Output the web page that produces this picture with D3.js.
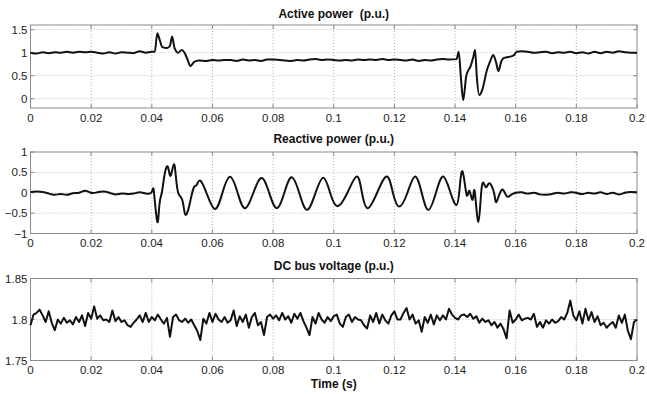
<!DOCTYPE html>
<html><head><meta charset="utf-8">
<script src="https://cdn.jsdelivr.net/npm/d3@7"></script>
<style>
body{margin:0;background:#fff;}
text{font-family:"Liberation Sans",Arial,Helvetica,sans-serif;}
</style></head>
<body><svg id="c" width="647" height="394"></svg>
<script>
const xTicks = [0,0.02,0.04,0.06,0.08,0.1,0.12,0.14,0.16,0.18,0.2];
const activeTicks = [0,0.5,1,1.5];
const reactiveTicks = [-1,-0.5,0,0.5,1];
const dcTicks = [1.75,1.8,1.85];

const activeT = [0,0.002,0.004,0.006,0.008,0.010,0.012,0.014,0.016,0.018,0.020,0.022,0.024,0.026,0.028,0.030,0.032,0.034,0.036,0.038,0.040,0.0410,0.0418,0.0425,0.0435,0.0450,0.0460,0.0467,0.0475,0.0488,0.0498,0.0508,0.0518,0.0527,0.0540,0.0555,0.058,0.060,0.062,0.064,0.066,0.068,0.070,0.072,0.074,0.076,0.078,0.080,0.082,0.084,0.086,0.088,0.090,0.092,0.094,0.096,0.098,0.100,0.102,0.104,0.106,0.108,0.110,0.112,0.114,0.116,0.118,0.120,0.122,0.124,0.126,0.128,0.130,0.132,0.134,0.136,0.138,0.1405,0.1412,0.1420,0.1427,0.1437,0.1452,0.1460,0.1466,0.1472,0.1480,0.1490,0.1505,0.1515,0.1526,0.1535,0.1543,0.1552,0.1560,0.1570,0.1585,0.1595,0.1603,0.162,0.164,0.166,0.168,0.170,0.172,0.174,0.176,0.178,0.180,0.182,0.184,0.186,0.188,0.190,0.192,0.194,0.196,0.198,0.200];
const activeV = [1.00,0.98,1.01,0.99,1.01,1.00,1.02,1.00,1.02,1.01,1.02,1.00,0.98,1.01,0.98,1.01,1.00,0.99,1.03,1.00,1.02,1.02,1.42,1.30,1.12,1.10,1.15,1.35,1.10,1.00,1.06,1.00,0.85,0.71,0.80,0.83,0.82,0.84,0.83,0.84,0.84,0.82,0.85,0.83,0.84,0.82,0.85,0.85,0.84,0.83,0.82,0.84,0.83,0.85,0.86,0.84,0.85,0.84,0.83,0.84,0.83,0.85,0.84,0.85,0.84,0.86,0.84,0.85,0.84,0.83,0.85,0.82,0.84,0.83,0.85,0.86,0.85,0.86,1.02,0.40,-0.03,0.50,0.72,0.90,1.06,0.45,0.08,0.20,0.62,0.80,0.95,0.80,0.60,0.80,0.88,0.90,0.92,0.95,1.02,1.03,1.02,1.00,1.01,1.02,0.99,1.01,1.00,1.02,0.99,1.01,0.98,1.02,0.99,1.02,1.00,1.03,1.01,1.00,1.00];

const reactiveT = [0,0.002,0.004,0.006,0.008,0.010,0.012,0.014,0.016,0.018,0.020,0.022,0.024,0.026,0.028,0.030,0.032,0.034,0.036,0.038,0.040,0.0407,0.0418,0.0425,0.0433,0.0440,0.0449,0.0456,0.0463,0.0473,0.0480,0.0487,0.0495,0.0503,0.0510,0.0520,0.0530,0.0540,0.0548,0.0559,0.0580,0.0608,0.0633,0.0658,0.0683,0.0707,0.0735,0.0762,0.0787,0.0812,0.0837,0.0861,0.0886,0.0912,0.0940,0.0966,0.0988,0.1012,0.1045,0.1076,0.1093,0.1112,0.1143,0.1175,0.1195,0.1216,0.1243,0.1268,0.1290,0.1312,0.1337,0.1361,0.1385,0.1405,0.1415,0.1425,0.1438,0.1447,0.1458,0.1465,0.1477,0.1488,0.1500,0.1510,0.1520,0.1530,0.1537,0.1554,0.1570,0.1585,0.160,0.162,0.164,0.166,0.168,0.170,0.172,0.174,0.176,0.178,0.180,0.182,0.184,0.186,0.188,0.190,0.192,0.194,0.196,0.198,0.200];
const reactiveV = [0.02,0.03,0.02,-0.02,-0.05,-0.03,-0.05,-0.01,0.00,0.05,0.00,0.01,0.03,0.00,-0.04,-0.02,-0.03,-0.02,0.01,-0.02,0.02,0.02,-0.71,-0.30,0.00,0.35,0.64,0.55,0.43,0.70,0.35,0.00,-0.10,-0.25,-0.53,-0.42,-0.10,0.15,0.19,0.30,0.00,-0.40,0.00,0.39,0.00,-0.38,0.00,0.36,0.00,-0.38,0.00,0.38,0.00,-0.42,0.00,0.37,0.00,-0.33,0.00,0.40,0.00,-0.38,0.00,0.40,0.00,-0.34,0.00,0.40,0.00,-0.42,0.00,0.40,0.00,-0.30,0.10,0.52,-0.05,0.05,-0.17,0.03,-0.71,0.14,0.15,0.22,0.18,-0.05,-0.22,0.07,-0.08,-0.05,0.00,0.01,-0.02,0.00,-0.04,-0.05,-0.03,0.00,-0.02,0.01,0.00,-0.03,0.00,-0.02,0.01,-0.03,0.00,-0.04,0.00,0.02,0.01];

const dcStep = 0.001;
const dcV = [1.793,1.806,1.808,1.812,1.805,1.797,1.810,1.796,1.787,1.800,1.795,1.802,1.796,1.799,1.794,1.803,1.797,1.805,1.792,1.808,1.801,1.816,1.801,1.805,1.799,1.800,1.797,1.811,1.798,1.803,1.797,1.799,1.793,1.791,1.796,1.800,1.805,1.797,1.808,1.797,1.803,1.799,1.806,1.800,1.795,1.802,1.779,1.803,1.806,1.799,1.797,1.801,1.796,1.800,1.793,1.786,1.775,1.801,1.795,1.808,1.797,1.807,1.800,1.797,1.803,1.796,1.799,1.811,1.792,1.804,1.797,1.806,1.790,1.803,1.808,1.793,1.797,1.781,1.803,1.806,1.801,1.805,1.799,1.808,1.800,1.804,1.796,1.807,1.801,1.808,1.798,1.790,1.781,1.803,1.795,1.808,1.800,1.796,1.803,1.798,1.804,1.806,1.795,1.791,1.803,1.806,1.797,1.803,1.800,1.799,1.793,1.789,1.805,1.797,1.808,1.795,1.806,1.799,1.795,1.805,1.810,1.800,1.800,1.808,1.814,1.800,1.806,1.795,1.799,1.785,1.803,1.796,1.806,1.794,1.805,1.799,1.805,1.800,1.813,1.806,1.802,1.800,1.805,1.806,1.803,1.807,1.801,1.804,1.796,1.801,1.797,1.799,1.793,1.797,1.790,1.795,1.788,1.777,1.811,1.796,1.800,1.806,1.799,1.801,1.802,1.800,1.807,1.791,1.797,1.790,1.799,1.795,1.800,1.796,1.798,1.803,1.800,1.808,1.823,1.805,1.799,1.810,1.795,1.813,1.799,1.809,1.797,1.804,1.793,1.796,1.790,1.794,1.797,1.790,1.805,1.796,1.806,1.786,1.776,1.797,1.800];

const svg = d3.select("#c");
const X0 = 30.5, X1 = 637;
const x = d3.scaleLinear().domain([0,0.2]).range([X0,X1]);

const panels = [
  {title:"Active power  (p.u.)", top:25, bottom:108, domain:[-0.2,1.6], ticks:activeTicks, t:activeT, v:activeV, curve:d3.curveMonotoneX, titleY:18},
  {title:"Reactive power (p.u.)", top:152, bottom:233.5, domain:[-1,1], ticks:reactiveTicks, t:reactiveT, v:reactiveV, curve:d3.curveNatural, titleY:142.5},
  {title:"DC bus voltage (p.u.)", top:278.5, bottom:360.5, domain:[1.75,1.85], ticks:dcTicks, t:dcV.map((d,i)=>i*dcStep), v:dcV, curve:d3.curveLinear, titleY:269.5}
];

panels.forEach(p => {
  const y = d3.scaleLinear().domain(p.domain).range([p.bottom,p.top]);
  const g = svg.append("g");
  g.selectAll(".vg").data(xTicks.slice(1,-1)).join("line")
    .attr("x1",d=>x(d)).attr("x2",d=>x(d)).attr("y1",p.top).attr("y2",p.bottom)
    .attr("stroke","#9a9a9a").attr("stroke-width",0.8).attr("stroke-dasharray","1,2");
  g.selectAll(".hg").data(p.ticks.filter(d=>d>p.domain[0]&&d<p.domain[1])).join("line")
    .attr("x1",X0).attr("x2",X1).attr("y1",d=>y(d)).attr("y2",d=>y(d))
    .attr("stroke","#a8a8a8").attr("stroke-width",0.8).attr("stroke-dasharray","1,2");
  g.append("rect").attr("x",X0).attr("y",p.top).attr("width",X1-X0).attr("height",p.bottom-p.top)
    .attr("fill","none").attr("stroke","#8a8a8a").attr("stroke-width",1);
  g.selectAll(".xt").data(xTicks).join("line")
    .attr("x1",d=>x(d)).attr("x2",d=>x(d)).attr("y1",p.bottom).attr("y2",p.bottom-4)
    .attr("stroke","#8a8a8a");
  g.selectAll(".xt2").data(xTicks).join("line")
    .attr("x1",d=>x(d)).attr("x2",d=>x(d)).attr("y1",p.top).attr("y2",p.top+4)
    .attr("stroke","#8a8a8a");
  g.selectAll(".yt").data(p.ticks).join("line")
    .attr("x1",X0).attr("x2",X0+4).attr("y1",d=>y(d)).attr("y2",d=>y(d)).attr("stroke","#8a8a8a");
  g.selectAll(".yt2").data(p.ticks).join("line")
    .attr("x1",X1).attr("x2",X1-4).attr("y1",d=>y(d)).attr("y2",d=>y(d)).attr("stroke","#8a8a8a");
  g.selectAll(".xl").data(xTicks).join("text")
    .attr("x",d=>x(d)).attr("y",p.bottom+13.5).attr("text-anchor","middle")
    .attr("font-size",11.5).attr("fill","#222").text(d=>d3.format("~g")(d));
  g.selectAll(".yl").data(p.ticks).join("text")
    .attr("x",X0-3).attr("y",d=>y(d)).attr("dy","0.35em").attr("text-anchor","end")
    .attr("font-size",11.5).attr("fill","#222").text(d=>d3.format("~g")(d));
  g.append("text").attr("x",(X0+X1)/2).attr("y",p.titleY).attr("text-anchor","middle")
    .attr("font-size",12).attr("font-weight","bold").style("white-space","pre").attr("fill","#111").text(p.title);
  const pts = p.t.map((t,i)=>[t,p.v[i]]);
  const line = d3.line().x(d=>x(d[0])).y(d=>y(d[1])).curve(p.curve);
  g.append("path").attr("d",line(pts)).attr("fill","none").attr("stroke","#111")
    .attr("stroke-width",2).attr("stroke-linejoin","round");
});

svg.append("text").attr("x",(X0+X1)/2).attr("y",388).attr("text-anchor","middle")
  .attr("font-size",12).attr("font-weight","bold").attr("fill","#111").text("Time (s)");
</script></body></html>
